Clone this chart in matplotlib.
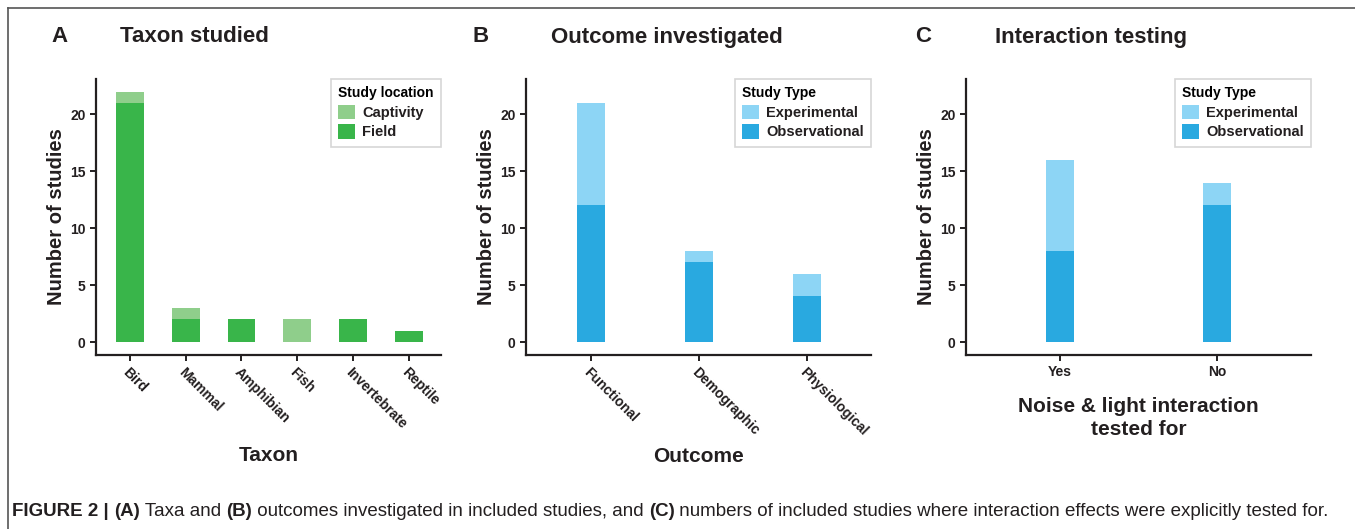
import matplotlib.pyplot as plt
from matplotlib.patches import Patch

# panel A
taxa = ['Bird', 'Mammal', 'Amphibian', 'Fish', 'Invertebrate', 'Reptile']
field = [21, 2, 2, 0, 2, 1]
captivity = [1, 1, 0, 2, 0, 0]

# panel B
outcomes = ['Functional', 'Demographic', 'Physiological']
outcome_obs = [12, 7, 4]
outcome_exp = [9, 1, 2]

# panel C
interaction = ['Yes', 'No']
inter_obs = [8, 12]
inter_exp = [8, 2]

DARK = '#231F20'
GREEN = '#39B54A'
LGREEN = '#8FCE8B'
BLUE = '#29A9E0'
LBLUE = '#8DD5F5'

plt.rcParams['font.family'] = ['Liberation Sans', 'DejaVu Sans']
plt.rcParams['font.weight'] = 'bold'

fig = plt.figure(figsize=(13.55, 5.29), dpi=100)
W, H = 1355, 529


def px_axes(x0, y0, x1, y1):
    return fig.add_axes([x0 / W, 1 - y1 / H, (x1 - x0) / W, (y1 - y0) / H])


def style(ax, xlim):
    ax.set_xlim(*xlim)
    ax.set_ylim(-1.14, 23.1)
    ax.set_yticks([0, 5, 10, 15, 20])
    for s in ['top', 'right']:
        ax.spines[s].set_visible(False)
    for s in ['left', 'bottom']:
        ax.spines[s].set_color(DARK)
        ax.spines[s].set_linewidth(1.6)
    ax.tick_params(colors=DARK, width=1.4, length=4, labelsize=10)
    for t in ax.get_yticklabels():
        t.set_fontweight('bold')
    ax.set_ylabel('Number of studies', fontsize=14.5, fontweight='bold', color=DARK, labelpad=3)


def legend(ax, title, labels, colors):
    handles = [Patch(facecolor=c, edgecolor='none') for c in colors]
    lg = ax.legend(handles, labels, title=title, loc='upper right',
                   bbox_to_anchor=(1.0, 1.0), borderaxespad=0.0, frameon=True, fancybox=False,
                   prop={'weight': 'bold', 'size': 10.5}, handlelength=1.15,
                   handleheight=1.15, handletextpad=0.5, labelspacing=0.3,
                   borderpad=0.5, alignment='left')
    lg.get_title().set_fontweight('bold')
    lg.get_title().set_fontsize(10)
    lg.get_frame().set_edgecolor('#CCCCCC')
    lg.get_frame().set_linewidth(1.2)
    for t in lg.get_texts():
        t.set_color(DARK)


# A
axA = px_axes(96, 79, 441, 355)
xa = list(range(len(taxa)))
axA.bar(xa, field, width=0.5, color=GREEN, label='Field')
axA.bar(xa, captivity, width=0.5, bottom=field, color=LGREEN, label='Captivity')
style(axA, (-0.61, 5.58))
axA.set_xticks(xa)
axA.set_xticklabels(taxa, rotation=-45, ha='left', va='top', rotation_mode='anchor',
                    fontsize=10, fontweight='bold')
axA.set_xlabel('Taxon', fontsize=15, fontweight='bold', color=DARK, labelpad=10)
legend(axA, 'Study location', ['Captivity', 'Field'], [LGREEN, GREEN])

# B
axB = px_axes(526, 79, 871, 355)
xb = list(range(len(outcomes)))
axB.bar(xb, outcome_obs, width=0.26, color=BLUE)
axB.bar(xb, outcome_exp, width=0.26, bottom=outcome_obs, color=LBLUE)
style(axB, (-0.60, 2.59))
axB.set_xticks(xb)
axB.set_xticklabels(outcomes, rotation=-45, ha='left', va='top', rotation_mode='anchor',
                    fontsize=10, fontweight='bold')
axB.set_xlabel('Outcome', fontsize=15, fontweight='bold', color=DARK, labelpad=6)
legend(axB, 'Study Type', ['Experimental', 'Observational'], [LBLUE, BLUE])

# C
axC = px_axes(966, 79, 1311, 355)
xc = list(range(len(interaction)))
axC.bar(xc, inter_obs, width=0.178, color=BLUE)
axC.bar(xc, inter_exp, width=0.178, bottom=inter_obs, color=LBLUE)
style(axC, (-0.60, 1.60))
axC.set_xticks(xc)
axC.set_xticklabels(interaction, fontsize=10, fontweight='bold')
axC.set_xlabel('Noise & light interaction\ntested for', fontsize=15, fontweight='bold',
               color=DARK, labelpad=13, linespacing=1.25)
legend(axC, 'Study Type', ['Experimental', 'Observational'], [LBLUE, BLUE])

# panel letters and titles
for letter, lx, title, tx in [('A', 51, 'Taxon studied', 120),
                              ('B', 473, 'Outcome investigated', 551),
                              ('C', 915, 'Interaction testing', 995)]:
    fig.text(lx / W, 1 - 37 / H, letter, fontsize=16, fontweight='bold', color=DARK, va='center')
    fig.text(tx / W, 1 - 37 / H, title, fontsize=16, fontweight='bold', color=DARK, va='center')

# frame lines
fig.add_artist(plt.Line2D([8 / W, 8 / W], [0, 1 - 8 / H], color='#555555', lw=1.2))
fig.add_artist(plt.Line2D([8 / W, 1], [1 - 8 / H, 1 - 8 / H], color='#555555', lw=1.2))

# caption with mixed weights
caption = [('FIGURE 2 | ', 'bold'), ('(A)', 'bold'), (' Taxa and ', 'normal'),
           ('(B)', 'bold'), (' outcomes investigated in included studies, and ', 'normal'),
           ('(C)', 'bold'),
           (' numbers of included studies where interaction effects were explicitly tested for.', 'normal')]
fig.canvas.draw()
renderer = fig.canvas.get_renderer()
x = 12 / W
for txt, wt in caption:
    t = fig.text(x, 1 - 512 / H, txt, fontsize=13.5, fontweight=wt, color=DARK, va='center',
                 family=['Liberation Sans', 'DejaVu Sans'])
    bb = t.get_window_extent(renderer)
    x = (bb.x1) / W

fig.savefig('out.png', dpi=100)
